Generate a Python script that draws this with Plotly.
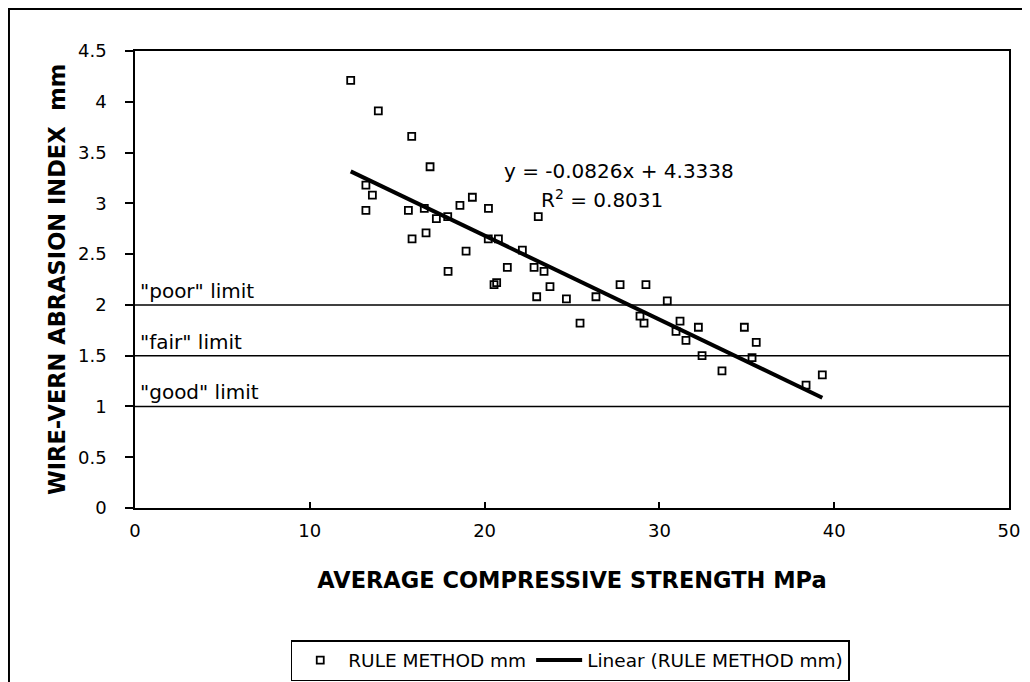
import plotly.graph_objects as go

# ---- data ----
strength_mpa = [12.34, 13.21, 13.21, 13.58, 13.92, 15.64, 15.83, 15.85, 16.55, 16.65,
                16.88, 17.24, 17.89, 17.91, 18.59, 18.94, 19.30, 20.21, 20.22, 20.54,
                20.69, 20.79, 21.30, 22.16, 22.83, 22.98, 23.07, 23.40, 23.74, 24.68,
                25.46, 26.37, 27.75, 28.89, 29.12, 29.23, 30.45, 30.95, 31.18, 31.52,
                32.23, 32.44, 33.58, 34.86, 35.30, 35.54, 38.39, 39.32]
abrasion_mm = [4.21, 3.18, 2.93, 3.08, 3.91, 2.93, 3.66, 2.65, 2.95, 2.71,
               3.36, 2.85, 2.87, 2.33, 2.98, 2.53, 3.06, 2.65, 2.95, 2.20,
               2.22, 2.65, 2.37, 2.54, 2.37, 2.08, 2.87, 2.33, 2.18, 2.06,
               1.82, 2.08, 2.20, 1.89, 1.82, 2.20, 2.04, 1.74, 1.84, 1.65,
               1.78, 1.50, 1.35, 1.78, 1.48, 1.63, 1.21, 1.31]

TREND_SLOPE = -0.0826
TREND_INTERCEPT = 4.3338
R_SQUARED = 0.8031

limit_values = [2.0, 1.5, 1.0]
limit_labels = ['"poor" limit', '"fair" limit', '"good" limit']

x_tickvals = [0, 10, 20, 30, 40, 50]
x_ticktext = ["0", "10", "20", "30", "40", "50"]
y_tickvals = [0, 0.5, 1, 1.5, 2, 2.5, 3, 3.5, 4, 4.5]
y_ticktext = ["0", "0.5", "1", "1.5", "2", "2.5", "3", "3.5", "4", "4.5"]

FONT = "DejaVu Sans"

# trend line across the data range
tx = [min(strength_mpa), max(strength_mpa)]
ty = [TREND_SLOPE * v + TREND_INTERCEPT for v in tx]

fig = go.Figure()
fig.add_trace(go.Scatter(
    x=strength_mpa, y=abrasion_mm, mode="markers", name="RULE METHOD mm",
    marker=dict(symbol="square-open", size=7, color="black", line=dict(width=1.8, color="black")),
))
fig.add_trace(go.Scatter(
    x=tx, y=ty, mode="lines", name="Linear (RULE METHOD mm)",
    line=dict(color="black", width=4),
))

# limit lines
for val, lab in zip(limit_values, limit_labels):
    fig.add_shape(type="line", xref="x domain", yref="y", x0=0, x1=1, y0=val, y1=val,
                  line=dict(color="black", width=1.5))
    fig.add_annotation(x=0, xref="x domain", y=val, yref="y", text=lab, showarrow=False,
                       xanchor="left", yanchor="bottom", xshift=3, yshift=0,
                       font=dict(family=FONT, size=20, color="black"))

# equation text
fig.add_annotation(x=0.554, xref="paper", y=0.738, yref="paper",
                   text=f"y = {TREND_SLOPE:.4f}x + {TREND_INTERCEPT:.4f}",
                   showarrow=False, xanchor="center", yanchor="middle",
                   font=dict(family=FONT, size=20, color="black"))
fig.add_annotation(x=0.534, xref="paper", y=0.676, yref="paper",
                   text=f"R<sup>2</sup> = {R_SQUARED:.4f}",
                   showarrow=False, xanchor="center", yanchor="middle",
                   font=dict(family=FONT, size=20, color="black"))

# outer chart border
fig.add_shape(type="rect", xref="paper", yref="paper",
              x0=-0.1442, x1=1.05, y0=-0.6, y1=1.0919,
              line=dict(color="black", width=2), fillcolor="rgba(0,0,0,0)", layer="below")

fig.update_layout(
    width=1022, height=674,
    margin=dict(l=127, r=21, t=43, b=174, autoexpand=False),
    paper_bgcolor="white", plot_bgcolor="white",
    font=dict(family=FONT, size=18, color="black"),
    showlegend=True,
    legend=dict(orientation="h", x=0.498, xanchor="center", y=-0.289, yanchor="top",
                bordercolor="black", borderwidth=1.5, bgcolor="white",
                font=dict(family=FONT, size=18.5, color="black"), itemwidth=46),
)
fig.update_xaxes(
    range=[0, 50], tickvals=x_tickvals, ticktext=x_ticktext,
    showline=True, linecolor="black", linewidth=1.5, mirror=True,
    ticks="inside", ticklen=6, tickwidth=1.5, tickcolor="black",
    showgrid=False, zeroline=False, ticklabelstandoff=6, automargin=False,
    title=dict(text="<b>AVERAGE COMPRESSIVE STRENGTH MPa</b>",
               font=dict(family=FONT, size=22.5, color="black"), standoff=32),
)
fig.update_yaxes(
    range=[0, 4.5], tickvals=y_tickvals, ticktext=y_ticktext,
    showline=True, linecolor="black", linewidth=1.5, mirror=True,
    ticks="outside", ticklen=8, tickwidth=1.5, tickcolor="black",
    showgrid=False, zeroline=False, ticklabelstandoff=15, automargin=False,
    title=dict(text="<b>WIRE-VERN ABRASION INDEX  mm</b>",
               font=dict(family=FONT, size=22.5, color="black"), standoff=6),
)

fig.write_html("out.html")
